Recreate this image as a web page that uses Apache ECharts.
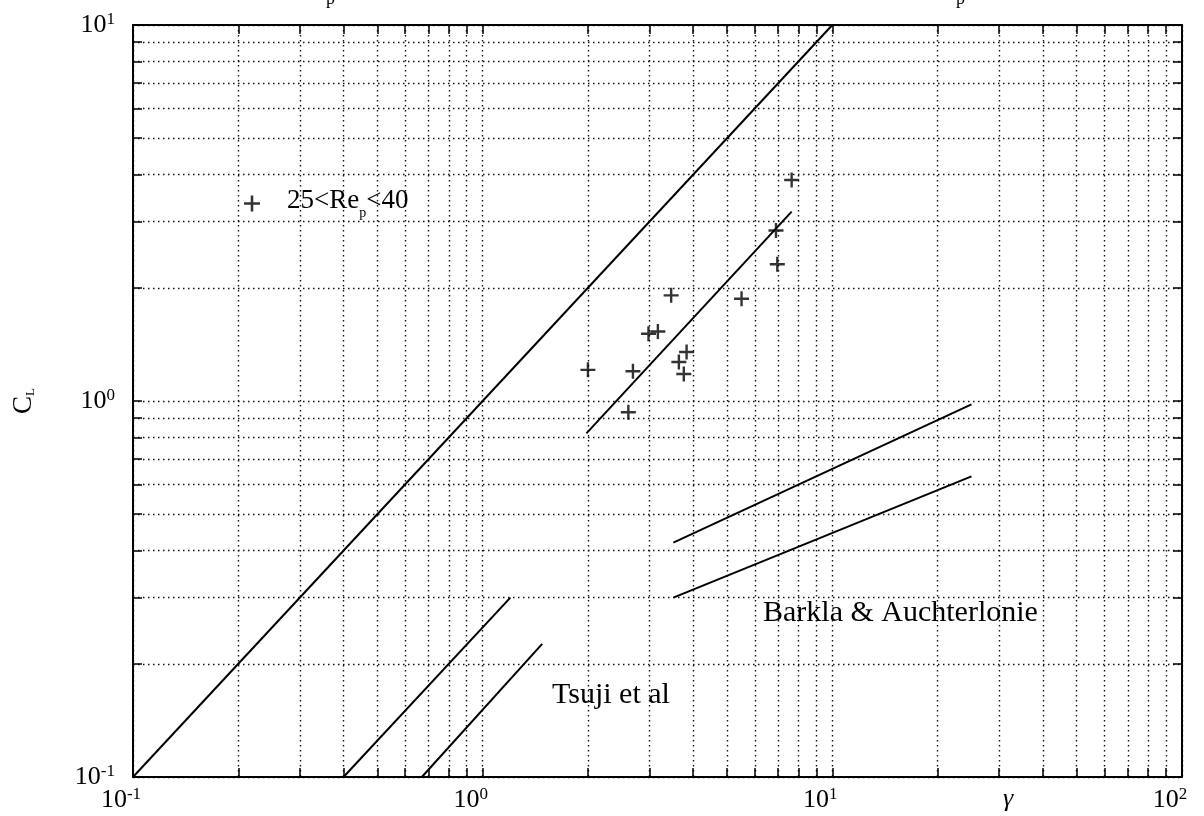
<!DOCTYPE html>
<html>
<head>
<meta charset="utf-8">
<script src="https://cdn.jsdelivr.net/npm/echarts@6/dist/echarts.min.js"></script>
<style>
html,body{margin:0;padding:0;background:#fff;}
#chart{width:1204px;height:816px;}
</style>
</head>
<body>
<div id="chart"></div>
<script>
// ---- data ----
var xDecades = [0.1, 1, 10, 100];
var xDecadeExp = ['-1', '0', '1', '2'];
var yDecades = [0.1, 1, 10];
var yDecadeExp = ['-1', '0', '1'];
var xTickValues = [0.1,0.2,0.3,0.4,0.5,0.6,0.7,0.8,0.9,1,2,3,4,5,6,7,8,9,10,20,30,40,50,60,70,80,90,100];
var yTickValues = [0.1,0.2,0.3,0.4,0.5,0.6,0.7,0.8,0.9,1,2,3,4,5,6,7,8,9,10];

var scatterName = '25<Re_p<40';
var gammaValues = [2.00, 2.69, 2.61, 2.98, 3.17, 3.46, 3.64, 3.76, 3.83, 5.50, 6.90, 6.96, 7.65];
var clValues    = [1.21, 1.20, 0.933, 1.51, 1.53, 1.91, 1.27, 1.18, 1.35, 1.87, 2.84, 2.31, 3.87];

var diagonalLine = [[0.1, 0.1], [10, 10]];
var fitLine      = [[1.98, 0.82], [7.65, 3.19]];
var tsujiLineA   = [[0.40, 0.10], [1.20, 0.30]];
var tsujiLineB   = [[0.67, 0.10], [1.48, 0.226]];
var barklaUpper  = [[3.51, 0.42], [25.0, 0.98]];
var barklaLower  = [[3.51, 0.30], [25.0, 0.63]];

var tsujiLabel = 'Tsuji et al';
var barklaLabel = 'Barkla & Auchterlonie';

// ---- chart ----
var FONT = '"Liberation Serif", "Times New Roman", serif';
var plusPath = 'path://M4.2,0H5.8V4.2H10V5.8H5.8V10H4.2V5.8H0V4.2H4.2Z';

function expLabel(decades, exps) {
  return function (v) {
    for (var i = 0; i < decades.length; i++) {
      if (Math.abs(Math.log10(v) - Math.log10(decades[i])) < 1e-6) {
        return '{b|10}{s|' + exps[i] + '}';
      }
    }
    return '';
  };
}
var labelRich = {
  b: {fontFamily: FONT, fontSize: 26, lineHeight: 27, color: '#000', verticalAlign: 'bottom'},
  s: {fontFamily: FONT, fontSize: 17, lineHeight: 17, color: '#000', verticalAlign: 'top'}
};

var tickStyle = {show: true, inside: true, length: 9, lineStyle: {color: '#000', width: 1.5}};
var gridStyle = {show: true, lineStyle: {color: '#111', width: 1.4, type: [1.5, 3.5]}};

function lineSeries(data) {
  return {
    type: 'line', data: data, showSymbol: false, symbol: 'none', silent: true,
    lineStyle: {color: '#000', width: 2}, z: 5
  };
}

var chart = echarts.init(document.getElementById('chart'), null, {renderer: 'canvas'});
chart.setOption({
  backgroundColor: '#fff',
  animation: false,
  grid: {left: 133, right: 22, top: 25, bottom: 39, containLabel: false},
  legend: {
    left: 239, top: 182, itemWidth: 16, itemHeight: 16,
    icon: plusPath,
    data: [scatterName],
    formatter: function () { return '{a|25<Re}{p|p}{a|<40}'; },
    textStyle: {
      fontFamily: FONT, fontSize: 27, color: '#000', padding: [0, 0, 0, 22],
      rich: {
        a: {fontFamily: FONT, fontSize: 27, color: '#000', verticalAlign: 'bottom', padding: [0, 0, 6, 0]},
        p: {fontFamily: FONT, fontSize: 14, color: '#000', verticalAlign: 'bottom'}
      }
    },
    itemStyle: {color: '#000'}
  },
  xAxis: [{
    type: 'log', logBase: 10, min: 0.1, max: 100,
    axisLine: {show: true, lineStyle: {color: '#000', width: 2}},
    axisTick: Object.assign({customValues: xTickValues}, tickStyle),
    splitLine: gridStyle,
    minorTick: {show: false}, minorSplitLine: {show: false},
    axisLabel: {
      customValues: xDecades, formatter: expLabel(xDecades, xDecadeExp),
      margin: 9, padding: [0, 24, 0, 0], rich: labelRich
    }
  }, {
    type: 'log', logBase: 10, min: 0.1, max: 100, position: 'top',
    axisLine: {show: true, lineStyle: {color: '#000', width: 2}},
    axisTick: Object.assign({customValues: xTickValues}, tickStyle),
    splitLine: {show: false}, axisLabel: {show: false}
  }],
  yAxis: [{
    type: 'log', logBase: 10, min: 0.1, max: 10,
    name: '{c|C}{l|L}', nameLocation: 'middle', nameGap: 96, nameRotate: 90,
    nameTextStyle: {
      rich: {
        c: {fontFamily: FONT, fontSize: 27, color: '#000', verticalAlign: 'top'},
        l: {fontFamily: FONT, fontSize: 13, color: '#000', verticalAlign: 'bottom', padding: [12, 0, 0, 0]}
      }
    },
    axisLine: {show: true, lineStyle: {color: '#000', width: 2}},
    axisTick: Object.assign({customValues: yTickValues}, tickStyle),
    splitLine: gridStyle,
    minorTick: {show: false}, minorSplitLine: {show: false},
    axisLabel: {
      customValues: yDecades, formatter: expLabel(yDecades, yDecadeExp),
      margin: 18, rich: labelRich
    }
  }, {
    type: 'log', logBase: 10, min: 0.1, max: 10, position: 'right',
    axisLine: {show: true, lineStyle: {color: '#000', width: 2}},
    axisTick: Object.assign({customValues: yTickValues}, tickStyle),
    splitLine: {show: false}, axisLabel: {show: false}
  }],
  series: [
    {
      name: scatterName, type: 'scatter', symbol: plusPath, symbolSize: 15,
      itemStyle: {color: '#000'}, z: 6,
      data: gammaValues.map(function (g, i) { return [g, clValues[i]]; })
    },
    lineSeries(diagonalLine),
    lineSeries(fitLine),
    lineSeries(tsujiLineA),
    lineSeries(tsujiLineB),
    lineSeries(barklaUpper),
    lineSeries(barklaLower)
  ],
  graphic: [
    {type: 'text', left: 552, top: 680, z: 10,
     style: {text: tsujiLabel, fontFamily: FONT, fontSize: 30, fill: '#000'}},
    {type: 'text', left: 763, top: 598, z: 10,
     style: {text: barklaLabel, fontFamily: FONT, fontSize: 30, fill: '#000'}},
    {type: 'text', x: 1003, y: 786, z: 10,
     style: {text: 'γ', fontFamily: FONT, fontStyle: 'italic', fontSize: 26, fill: '#000'}},
    {type: 'text', x: 326, y: 8, z: 10,
     style: {text: 'p', fontFamily: FONT, fontSize: 18, fill: '#000', verticalAlign: 'bottom'}},
    {type: 'text', x: 956, y: 8, z: 10,
     style: {text: 'p', fontFamily: FONT, fontSize: 18, fill: '#000', verticalAlign: 'bottom'}}
  ]
});
</script>
</body>
</html>
